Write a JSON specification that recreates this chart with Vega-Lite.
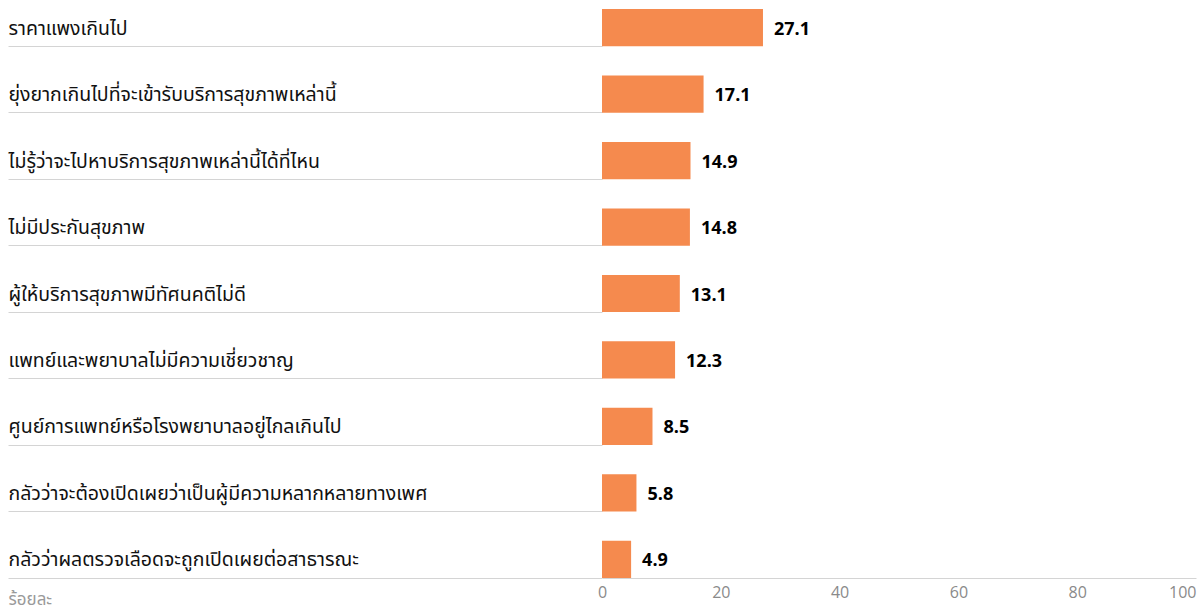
{
  "$schema": "https://vega.github.io/schema/vega-lite/v6.json",
  "autosize": {"type": "none"},
  "padding": {"left": 602, "top": 9, "right": 5, "bottom": 34},
  "width": 594,
  "height": 569,
  "config": {"view": {"stroke": null}},
  "data": {
    "values": [
      {"reason": "ราคาแพงเกินไป", "pct": 27.1},
      {"reason": "ยุ่งยากเกินไปที่จะเข้ารับบริการสุขภาพเหล่านี้", "pct": 17.1},
      {"reason": "ไม่รู้ว่าจะไปหาบริการสุขภาพเหล่านี้ได้ที่ไหน", "pct": 14.9},
      {"reason": "ไม่มีประกันสุขภาพ", "pct": 14.8},
      {"reason": "ผู้ให้บริการสุขภาพมีทัศนคติไม่ดี", "pct": 13.1},
      {"reason": "แพทย์และพยาบาลไม่มีความเชี่ยวชาญ", "pct": 12.3},
      {"reason": "ศูนย์การแพทย์หรือโรงพยาบาลอยู่ไกลเกินไป", "pct": 8.5},
      {"reason": "กลัวว่าจะต้องเปิดเผยว่าเป็นผู้มีความหลากหลายทางเพศ", "pct": 5.8},
      {"reason": "กลัวว่าผลตรวจเลือดจะถูกเปิดเผยต่อสาธารณะ", "pct": 4.9}
    ]
  },
  "encoding": {
    "y": {
      "field": "reason",
      "type": "nominal",
      "sort": null,
      "scale": {"paddingInner": 0.44, "paddingOuter": 0},
      "axis": {
        "title": null,
        "orient": "left",
        "domain": false,
        "ticks": true,
        "tickSize": 594,
        "tickColor": "#d4d4d4",
        "tickWidth": 1,
        "bandPosition": 1,
        "labelOffset": 1,
        "labelAlign": "left",
        "labelBaseline": "middle",
        "labelPadding": 0,
        "labelLimit": 600,
        "labelFontSize": 19.5,
        "labelColor": "#111111",
        "labelFont": "Tahoma, 'Noto Sans Thai', 'Noto Sans', sans-serif"
      }
    }
  },
  "layer": [
    {
      "mark": {"type": "bar", "color": "#F58A4E"},
      "encoding": {
        "x": {
          "field": "pct",
          "type": "quantitative",
          "scale": {"domain": [0, 100], "nice": false},
          "axis": {
            "values": [0, 20, 40, 60, 80, 100],
            "ticks": false,
            "grid": false,
            "domainColor": "#d4d4d4",
            "labelColor": "#8a8a8a",
            "labelFontSize": 16,
            "labelFont": "Open Sans",
            "labelPadding": 6,
            "labelAlign": {"expr": "datum.value == 100 ? 'right' : 'center'"},
            "title": "ร้อยละ",
            "titleX": -594,
            "titleY": 26,
            "titleAlign": "left",
            "titleBaseline": "alphabetic",
            "titleColor": "#9a9a9a",
            "titleFontSize": 17,
            "titleFontWeight": "normal",
            "titleFont": "Tahoma, 'Noto Sans Thai', sans-serif"
          }
        }
      }
    },
    {
      "mark": {"type": "text", "align": "left", "baseline": "middle", "dx": 11, "dy": 2, "fontWeight": "bold", "fontSize": 18, "font": "Open Sans", "color": "#000000"},
      "encoding": {
        "x": {"field": "pct", "type": "quantitative"},
        "text": {"field": "pct", "type": "quantitative", "format": ".1f"}
      }
    }
  ]
}
